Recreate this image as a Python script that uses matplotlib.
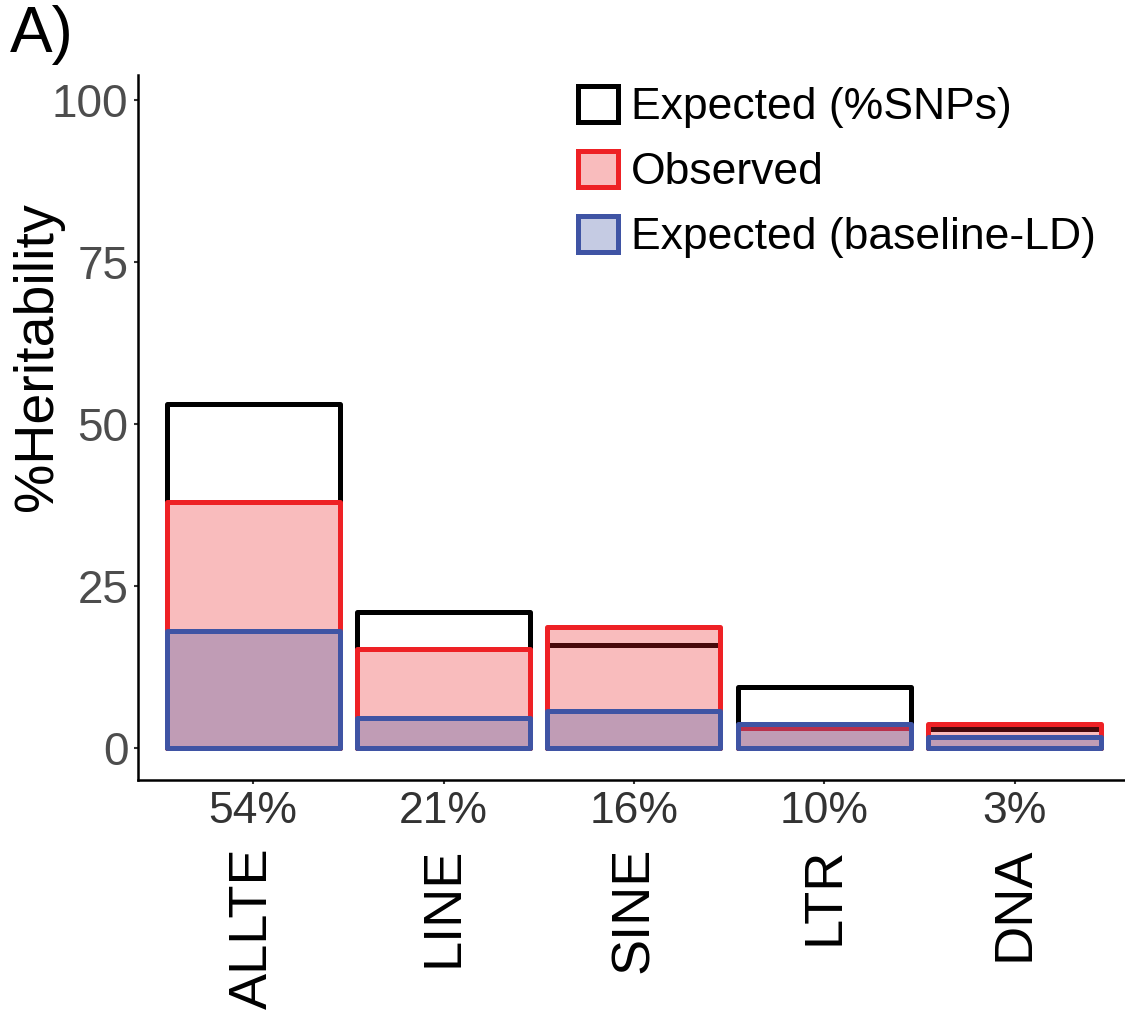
import numpy as np
import matplotlib
matplotlib.use("Agg")
import matplotlib.pyplot as plt
from matplotlib.colors import to_rgba
from matplotlib.patches import Patch

plt.rcParams["font.family"] = ["Liberation Sans", "DejaVu Sans"]

categories = ["ALLTE", "LINE", "SINE", "LTR", "DNA"]
snp_pct_labels = ["54%", "21%", "16%", "10%", "3%"]
expected_snps = [53.2, 21.0, 16.0, 9.5, 2.9]
observed = [38.0, 15.3, 18.7, 3.1, 3.7]
expected_baseline = [18.1, 4.6, 5.7, 3.7, 1.7]

red = "#EE2125"
blue = "#3F54A4"
x = np.arange(len(categories))
width = 0.91

fig = plt.figure(figsize=(11.25, 10.19), dpi=100)
ax = fig.add_axes([138 / 1125, 1 - 780 / 1019, 1 - 138 / 1125, 705 / 1019])

common = dict(width=width, linewidth=3.6, joinstyle="round")
ax.bar(x, expected_snps, facecolor="none", edgecolor="black", zorder=1, **common)
ax.bar(x, observed, facecolor=to_rgba(red, 0.3), edgecolor=red, zorder=2, **common)
ax.bar(x, expected_baseline, facecolor=to_rgba(blue, 0.3), edgecolor=blue, zorder=3, **common)

ax.set_xlim(-0.605, 4.58)
ax.set_ylim(-4.9, 103.9)
ax.set_yticks([0, 25, 50, 75, 100])
ax.tick_params(axis="y", labelsize=33, labelcolor="#4D4D4D", color="#333333",
               length=3, width=1.5, pad=4)
ax.set_xticks(x)
ax.set_xticklabels([])
ax.tick_params(axis="x", color="#333333", length=3, width=1.5)

for s in ["top", "right"]:
    ax.spines[s].set_visible(False)
for s in ["left", "bottom"]:
    ax.spines[s].set_linewidth(1.8)
    ax.spines[s].set_color("black")

ax.set_ylabel("%Heritability", fontsize=40, va="center")
ax.yaxis.set_label_coords(-0.101, 0.6)

trans = ax.get_xaxis_transform()
for xi, pct, cat in zip(x, snp_pct_labels, categories):
    ax.text(xi, -0.044, pct, transform=trans, ha="center", va="center",
            fontsize=32, color="#333333")
    ax.text(xi, -0.095, cat, transform=trans, ha="center", va="top",
            rotation=90, fontsize=39, color="black")

handles = [
    Patch(facecolor="none", edgecolor="black", linewidth=3.6),
    Patch(facecolor=to_rgba(red, 0.3), edgecolor=red, linewidth=3.6),
    Patch(facecolor=to_rgba(blue, 0.3), edgecolor=blue, linewidth=3.6),
]
labels = ["Expected (%SNPs)", "Observed", "Expected (baseline-LD)"]
ax.legend(handles, labels, loc="upper left", bbox_to_anchor=(0.4458, 0.985),
          frameon=False, fontsize=32, handlelength=0.9, handleheight=0.9,
          handletextpad=0.3, labelspacing=0.5, borderpad=0, borderaxespad=0)

fig.text(0.009, 0.995, "A)", fontsize=46, ha="left", va="top")

fig.savefig("out.png", dpi=100)
